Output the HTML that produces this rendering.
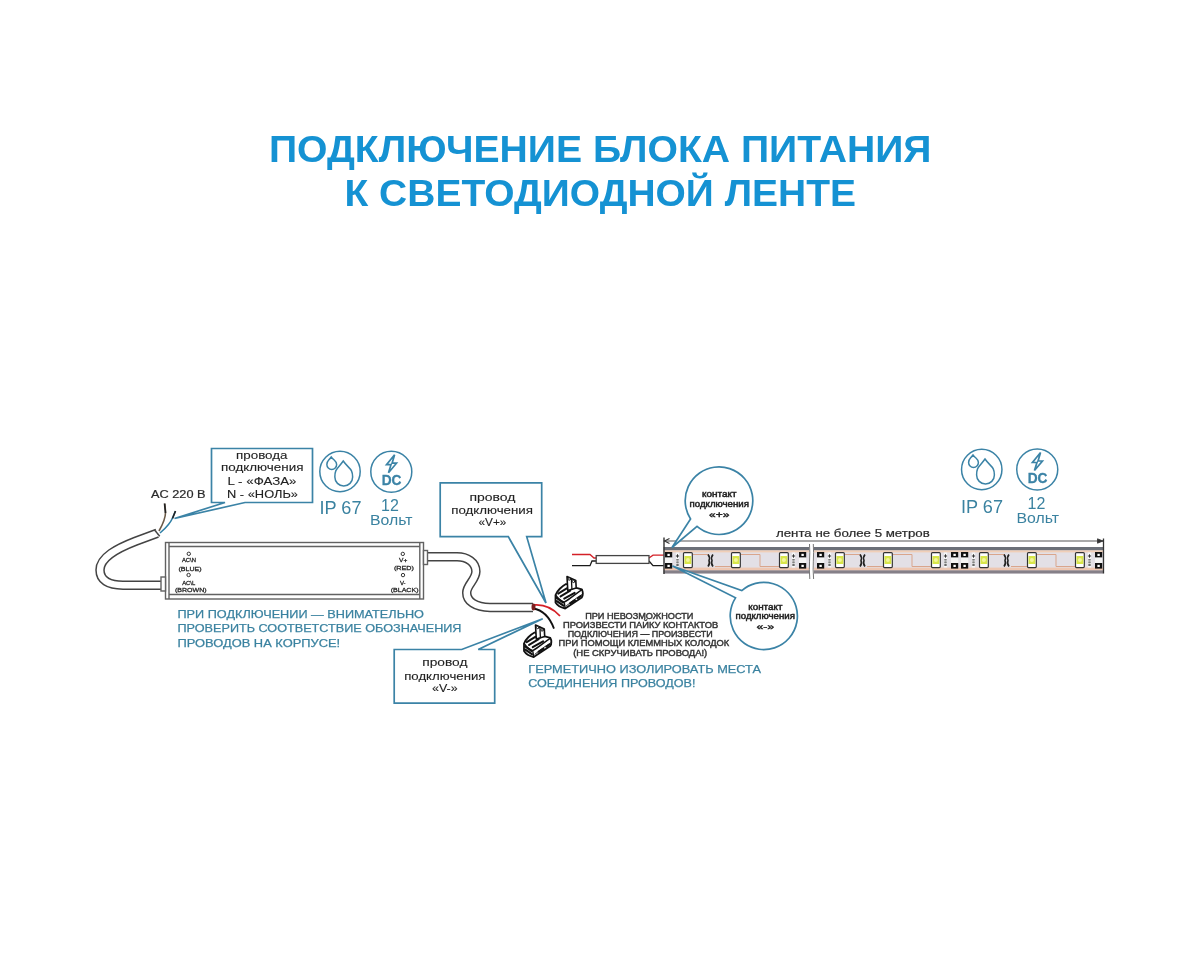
<!DOCTYPE html>
<html><head><meta charset="utf-8"><title>Подключение блока питания к светодиодной ленте</title>
<style>html,body{margin:0;padding:0;background:#fff;} svg{display:block;will-change:transform;}</style></head>
<body><svg width="1200" height="960" viewBox="0 0 1200 960">
<rect width="1200" height="960" fill="#fff"/>
<g font-family="Liberation Sans" >
<text x="268.9" y="162" font-size="37.4" fill="#1592d3" font-weight="bold" text-anchor="start" textLength="662.5" lengthAdjust="spacingAndGlyphs" >ПОДКЛЮЧЕНИЕ БЛОКА ПИТАНИЯ</text>
<text x="344.5" y="205.8" font-size="37.4" fill="#1592d3" font-weight="bold" text-anchor="start" textLength="511.5" lengthAdjust="spacingAndGlyphs" >К СВЕТОДИОДНОЙ ЛЕНТЕ</text>
</g>
<g fill="none" stroke-linecap="butt">
<path d="M159,531 C163,524 166,518 165.5,511 L164.8,503.7" stroke="#6b5a48" stroke-width="1.6"/>
<path d="M164.5,503.5 L165.5,513" stroke="#222" stroke-width="1.6"/>
<path d="M160,533 C166,528 171,522 173,517 L175.3,511.3" stroke="#2f7fa5" stroke-width="1.6"/>
<path d="M172.5,518.5 L175.5,511" stroke="#222" stroke-width="1.6"/>
<path d="M157.2,533.2 L135.6,541.2 C118,548 100,557 100,570 C100,580 108,585.2 123,585.2 L162,585.2" stroke="#444" stroke-width="9.5"/>
<path d="M157.2,533.2 L135.6,541.2 C118,548 100,557 100,570 C100,580 108,585.2 123,585.2 L162,585.2" stroke="#fff" stroke-width="6.5"/>
<path d="M154.5,530 L159.8,536.2" stroke="#444" stroke-width="1.4"/>
<path d="M427,556.8 L457,556.8 C467,556.8 475.9,562 475.9,571.6 C475.8,580 466.7,585 466.7,592.7 C466.7,601 475,607.4 490,607.4 L533,607.4" stroke="#444" stroke-width="9.5"/>
<path d="M427,556.8 L457,556.8 C467,556.8 475.9,562 475.9,571.6 C475.8,580 466.7,585 466.7,592.7 C466.7,601 475,607.4 490,607.4 L533,607.4" stroke="#fff" stroke-width="6.5"/>
</g>
<g fill="none" stroke="#626262" stroke-width="1.4">
<rect x="165.5" y="542.5" width="258" height="56.5" fill="#fff"/>
<line x1="169" y1="542.5" x2="169" y2="599"/>
<line x1="419.8" y1="542.5" x2="419.8" y2="599"/>
<line x1="169" y1="546.5" x2="419.8" y2="546.5"/>
<line x1="169" y1="594.5" x2="419.8" y2="594.5"/>
<rect x="161" y="577" width="4.5" height="14" fill="#fff"/>
<rect x="423.5" y="550.5" width="4" height="14" fill="#fff"/>
</g>
<g font-family="Liberation Sans" fill="#2a2a2a" font-size="6" text-anchor="middle" stroke="#2a2a2a" stroke-width="0.3">
<circle cx="188.8" cy="553.8" r="1.7" fill="none" stroke="#333" stroke-width="1"/>
<circle cx="188.6" cy="575" r="1.7" fill="none" stroke="#333" stroke-width="1"/>
<circle cx="402.8" cy="553.9" r="1.7" fill="none" stroke="#333" stroke-width="1"/>
<circle cx="403" cy="575.1" r="1.7" fill="none" stroke="#333" stroke-width="1"/>
<text x="188.89999999999998" y="562.2" textLength="14.000000000000005" lengthAdjust="spacingAndGlyphs">AC\N</text>
<text x="190.0" y="570.6" textLength="23.1" lengthAdjust="spacingAndGlyphs">(BLUE)</text>
<text x="188.75" y="585" textLength="13.1" lengthAdjust="spacingAndGlyphs">AC\L</text>
<text x="190.775" y="591.9" textLength="31.54999999999999" lengthAdjust="spacingAndGlyphs">(BROWN)</text>
<text x="403.15" y="561.9" textLength="8.299999999999988" lengthAdjust="spacingAndGlyphs">V+</text>
<text x="403.9" y="570.2" textLength="20.000000000000036" lengthAdjust="spacingAndGlyphs">(RED)</text>
<text x="402.75" y="585.1" textLength="5.700000000000022" lengthAdjust="spacingAndGlyphs">V-</text>
<text x="404.6" y="592.2" textLength="27.79999999999999" lengthAdjust="spacingAndGlyphs">(BLACK)</text>
</g>
<text x="151" y="497.7" font-size="11.6" fill="#2a2a2a" font-weight="normal" text-anchor="start" textLength="54.5" lengthAdjust="spacingAndGlyphs" font-family="Liberation Sans" stroke="#2a2a2a" stroke-width="0.2">AC 220 B</text>
<path d="M225,502.5 L211.5,502.5 L211.5,448.5 L312.5,448.5 L312.5,502.5 L245,502.5 L174.5,518.5 Z" fill="#fff" stroke="#3b83a6" stroke-width="1.7" stroke-linejoin="miter"/>
<path d="M508.3,536.7 L440.2,536.7 L440.2,482.8 L541.7,482.8 L541.7,536.7 L526.7,536.7 L546,603 Z" fill="#fff" stroke="#3b83a6" stroke-width="1.7" stroke-linejoin="miter"/>
<path d="M461.7,649.5 L394.2,649.5 L394.2,703.2 L494.7,703.2 L494.7,649.5 L478.2,649.5 L542.7,618.7 Z" fill="#fff" stroke="#3b83a6" stroke-width="1.7" stroke-linejoin="miter"/>
<g font-family="Liberation Sans" fill="#222" font-size="11.5" text-anchor="middle" stroke="#222" stroke-width="0.1">
<text x="261.75" y="459" textLength="51.5" lengthAdjust="spacingAndGlyphs" >провода</text>
<text x="262.25" y="471" textLength="82.5" lengthAdjust="spacingAndGlyphs" >подключения</text>
<text x="262.0" y="485" textLength="69" lengthAdjust="spacingAndGlyphs" >L - «ФАЗА»</text>
<text x="262.5" y="498" textLength="71.0" lengthAdjust="spacingAndGlyphs" >N - «НОЛЬ»</text>
<text x="492.5" y="500.9" textLength="46" lengthAdjust="spacingAndGlyphs" >провод</text>
<text x="492.1" y="513.7" textLength="81.80000000000001" lengthAdjust="spacingAndGlyphs" >подключения</text>
<text x="492.4" y="525.8" textLength="27.80000000000001" lengthAdjust="spacingAndGlyphs" >«V+»</text>
<text x="444.85" y="666.1" textLength="45.30000000000001" lengthAdjust="spacingAndGlyphs" >провод</text>
<text x="444.85" y="679.5" textLength="81.30000000000001" lengthAdjust="spacingAndGlyphs" >подключения</text>
<text x="444.85" y="691.5" textLength="25.69999999999999" lengthAdjust="spacingAndGlyphs" >«V-»</text>
</g>
<g fill="none" stroke="#3b83a6" stroke-width="1.5">
<circle cx="340" cy="471.5" r="20.2"/>
<circle cx="391.3" cy="471.7" r="20.5"/>
<path d="M331.25,457.0 C328.59,460.8 326.85,460.42 326.85,464.6 A4.9,4.9 0 0 0 336.65,464.6 C336.65,460.42 333.91,460.8 331.25,457.0 Z" fill="none"/>
<path d="M335.8,469.0 L341,470.5" stroke="#fff" stroke-width="0"/>
<path d="M343.25,461.0 C337.65,469.0 334.85,468.3 334.85,477.1 A8.9,8.9 0 0 0 352.65,477.1 C352.65,468.3 348.85,469.0 343.25,461.0 Z" fill="#fff"/>
<path d="M394.6,454.7 L386.5,464.7 L391.0,464.7 L388.5,472.7 L396.5,463.2 L392.1,463.2 Z" stroke-width="1.7" stroke-linejoin="miter"/>
</g>
<text x="391.6" y="485.2" font-family="Liberation Sans" font-weight="bold" font-size="14.6" fill="#3b83a6" stroke="#3b83a6" stroke-width="0.3" text-anchor="middle" textLength="19.8" lengthAdjust="spacingAndGlyphs">DC</text>
<g font-family="Liberation Sans" fill="#3a82a0">
<text x="319.5" y="514" font-size="17.6" textLength="42" lengthAdjust="spacingAndGlyphs">IP 67</text>
<text x="390" y="510.6" font-size="16" text-anchor="middle">12</text>
<text x="370" y="524.6" font-size="15" textLength="42.5" lengthAdjust="spacingAndGlyphs">Вольт</text>
</g>
<g fill="none" stroke="#3b83a6" stroke-width="1.5">
<circle cx="981.75" cy="469.5" r="20.2"/>
<circle cx="1037.25" cy="469.5" r="20.5"/>
<path d="M973.0,455.0 C970.34,458.8 968.6,458.42 968.6,462.6 A4.9,4.9 0 0 0 978.4,462.6 C978.4,458.42 975.66,458.8 973.0,455.0 Z" fill="none"/>
<path d="M977.55,467.0 L982.75,468.5" stroke="#fff" stroke-width="0"/>
<path d="M985.0,459.0 C979.4,467.0 976.6,466.3 976.6,475.1 A8.9,8.9 0 0 0 994.4,475.1 C994.4,466.3 990.6,467.0 985.0,459.0 Z" fill="#fff"/>
<path d="M1040.55,452.5 L1032.45,462.5 L1036.95,462.5 L1034.45,470.5 L1042.45,461.0 L1038.05,461.0 Z" stroke-width="1.7" stroke-linejoin="miter"/>
</g>
<text x="1037.55" y="483.0" font-family="Liberation Sans" font-weight="bold" font-size="14.6" fill="#3b83a6" stroke="#3b83a6" stroke-width="0.3" text-anchor="middle" textLength="19.8" lengthAdjust="spacingAndGlyphs">DC</text>
<g font-family="Liberation Sans" fill="#3a82a0">
<text x="961" y="512.5" font-size="17.6" textLength="42" lengthAdjust="spacingAndGlyphs">IP 67</text>
<text x="1036.5" y="509" font-size="16" text-anchor="middle">12</text>
<text x="1016.5" y="523" font-size="15" textLength="42.5" lengthAdjust="spacingAndGlyphs">Вольт</text>
</g>
<g font-family="Liberation Sans" fill="#3a82a0" font-size="11.6" stroke="#3a82a0" stroke-width="0.25">
<text x="177.5" y="618.2" textLength="246.5" lengthAdjust="spacingAndGlyphs">ПРИ ПОДКЛЮЧЕНИИ — ВНИМАТЕЛЬНО</text>
<text x="177.5" y="632.3" textLength="284" lengthAdjust="spacingAndGlyphs">ПРОВЕРИТЬ СООТВЕТСТВИЕ ОБОЗНАЧЕНИЯ</text>
<text x="177.5" y="646.7" textLength="162.7" lengthAdjust="spacingAndGlyphs">ПРОВОДОВ НА КОРПУСЕ!</text>
<text x="528.3" y="672.7" font-size="11.8" textLength="232.7" lengthAdjust="spacingAndGlyphs">ГЕРМЕТИЧНО ИЗОЛИРОВАТЬ МЕСТА</text>
<text x="528.3" y="687.3" font-size="11.8" textLength="167.2" lengthAdjust="spacingAndGlyphs">СОЕДИНЕНИЯ ПРОВОДОВ!</text>
</g>
<g font-family="Liberation Sans" fill="#333" font-size="8.4" text-anchor="middle" stroke="#333" stroke-width="0.4">
<text x="639.3" y="618.8" textLength="108.3" lengthAdjust="spacingAndGlyphs">ПРИ НЕВОЗМОЖНОСТИ</text>
<text x="640.6" y="628" textLength="155.1" lengthAdjust="spacingAndGlyphs">ПРОИЗВЕСТИ ПАЙКУ КОНТАКТОВ</text>
<text x="640.2" y="637.1" textLength="145" lengthAdjust="spacingAndGlyphs">ПОДКЛЮЧЕНИЯ — ПРОИЗВЕСТИ</text>
<text x="643.9" y="646.3" textLength="170.7" lengthAdjust="spacingAndGlyphs">ПРИ ПОМОЩИ КЛЕММНЫХ КОЛОДОК</text>
<text x="640.2" y="655.5" textLength="134" lengthAdjust="spacingAndGlyphs">(НЕ СКРУЧИВАТЬ ПРОВОДА!)</text>
</g>
<path d="M533,605 C543,604 552,607 560,616" fill="none" stroke="#d42027" stroke-width="1.8"/>
<path d="M533,608.5 C543,610 550,618 554,628.6" fill="none" stroke="#111" stroke-width="1.8"/>
<ellipse cx="533.5" cy="607" rx="2" ry="3.6" fill="#7a2020"/>
<g transform="translate(555,576)" fill="#fff" stroke="#111" stroke-width="1.5" stroke-linejoin="round" stroke-linecap="round">
<path d="M0.5,19 C2,15 7,10 11,8 L21.4,11.8 L26.8,13.4 C28.2,15.5 28.2,19.5 26.8,21.6 L10.2,32.5 C6,31.5 2,29 0.5,26.5 Z" stroke-width="1.8"/>
<path d="M0.8,19.2 C3,22.5 6,25 9.2,26.2 C15,23 21,17.5 27,13.6 M9.2,26.2 L10.2,32.3" fill="none" stroke-width="1.4"/>
<path d="M11.4,29.8 C16,26.2 21.5,21.5 27.2,18.4" fill="none" stroke-width="0.9"/>
<path d="M15.2,27.2 L20,24.3" fill="none" stroke-width="2.2"/>
<path d="M22.8,22.2 L26,20" fill="none" stroke-width="2"/>
<path d="M3.2,17.6 L11.8,12.4 M5.6,20.4 L15.2,14.6 M9.2,22.6 L19.6,16.8" fill="none" stroke-width="2"/>
<path d="M12,0.6 L20.8,4.6 L21.2,12 L12.8,14.6 Z" stroke-width="1.6"/>
<path d="M16.4,2.6 L16.9,13.3" fill="none" stroke-width="1.3"/>
<ellipse cx="14.2" cy="3" rx="1.3" ry="1.2" fill="#fff" stroke-width="1"/>
<ellipse cx="18.6" cy="5.4" rx="1.3" ry="1.2" fill="#fff" stroke-width="1"/>
<path d="M1.6,21.8 L8,26.4 M1.8,25.2 L8.4,29.6" fill="none" stroke-width="2.2"/>
</g>
<g transform="translate(523.5,624.5)" fill="#fff" stroke="#111" stroke-width="1.5" stroke-linejoin="round" stroke-linecap="round">
<path d="M0.5,19 C2,15 7,10 11,8 L21.4,11.8 L26.8,13.4 C28.2,15.5 28.2,19.5 26.8,21.6 L10.2,32.5 C6,31.5 2,29 0.5,26.5 Z" stroke-width="1.8"/>
<path d="M0.8,19.2 C3,22.5 6,25 9.2,26.2 C15,23 21,17.5 27,13.6 M9.2,26.2 L10.2,32.3" fill="none" stroke-width="1.4"/>
<path d="M11.4,29.8 C16,26.2 21.5,21.5 27.2,18.4" fill="none" stroke-width="0.9"/>
<path d="M15.2,27.2 L20,24.3" fill="none" stroke-width="2.2"/>
<path d="M22.8,22.2 L26,20" fill="none" stroke-width="2"/>
<path d="M3.2,17.6 L11.8,12.4 M5.6,20.4 L15.2,14.6 M9.2,22.6 L19.6,16.8" fill="none" stroke-width="2"/>
<path d="M12,0.6 L20.8,4.6 L21.2,12 L12.8,14.6 Z" stroke-width="1.6"/>
<path d="M16.4,2.6 L16.9,13.3" fill="none" stroke-width="1.3"/>
<ellipse cx="14.2" cy="3" rx="1.3" ry="1.2" fill="#fff" stroke-width="1"/>
<ellipse cx="18.6" cy="5.4" rx="1.3" ry="1.2" fill="#fff" stroke-width="1"/>
<path d="M1.6,21.8 L8,26.4 M1.8,25.2 L8.4,29.6" fill="none" stroke-width="2.2"/>
</g>
<g fill="none" stroke-width="1.3">
<path d="M572,554.5 L590,554.5 L594,558 L597,558" stroke="#d42027"/>
<path d="M572,565.7 L590,565.7 L592,561 L597,561" stroke="#1a1a1a"/>
<path d="M649,558 L653,555.2 L664,555.2" stroke="#d42027"/>
<path d="M649,561 L653,565.7 L664,565.7" stroke="#1a1a1a"/>
<rect x="596.2" y="555.6" width="52.8" height="7.8" fill="#fff" stroke="#444" stroke-width="1.3"/>
</g>
<g>
<rect x="663.6" y="547" width="439.7" height="26.5" fill="#e3e0e6"/>
<rect x="663.6" y="547" width="439.7" height="3.4" fill="#6c7078"/>
<rect x="663.6" y="570.2" width="439.7" height="3.3" fill="#858088"/>
<rect x="663.6" y="550.4" width="439.7" height="2" fill="#f0cfb8"/>
<rect x="663.6" y="567.6" width="439.7" height="2.6" fill="#eec7b2"/>
<rect x="665" y="552" width="7.2" height="5.6" fill="#111"/>
<rect x="667.4" y="553.8" width="2.4" height="2.2" fill="#fff"/>
<rect x="799" y="552" width="7.2" height="5.6" fill="#111"/>
<rect x="801.4" y="553.8" width="2.4" height="2.2" fill="#fff"/>
<rect x="665" y="563" width="7.2" height="5.6" fill="#111"/>
<rect x="667.4" y="564.8" width="2.4" height="2.2" fill="#fff"/>
<rect x="799" y="563" width="7.2" height="5.6" fill="#111"/>
<rect x="801.4" y="564.8" width="2.4" height="2.2" fill="#fff"/>
<rect x="665" y="557.6" width="7.2" height="5.4" fill="#f4f4f4"/>
<rect x="799" y="557.6" width="7.2" height="5.4" fill="#f4f4f4"/>
<rect x="675.9" y="552.5" width="3.2" height="15" fill="#f6f6f6"/>
<path d="M675.9,556 h3.2 M677.5,554.3 v3.4" stroke="#333" stroke-width="1"/>
<path d="M677.5,559 v1.6 M677.5,561.4 v1.8 M677.5,564 v2" stroke="#444" stroke-width="2.2"/>
<path d="M676.4,559.8 h2.2 M676.4,562.3 h2.2 M676.4,565 h2.2" stroke="#ddd" stroke-width="0.5"/>
<rect x="791.9" y="552.5" width="3.2" height="15" fill="#f6f6f6"/>
<path d="M791.9,556 h3.2 M793.5,554.3 v3.4" stroke="#333" stroke-width="1"/>
<path d="M793.5,559 v1.6 M793.5,561.4 v1.8 M793.5,564 v2" stroke="#444" stroke-width="2.2"/>
<path d="M792.4,559.8 h2.2 M792.4,562.3 h2.2 M792.4,565 h2.2" stroke="#ddd" stroke-width="0.5"/>
<path d="M693,554.5 L709,554.5 M715,566.5 L731,566.5 M741,554.5 L760,554.5 L760,566.5 L779,566.5" fill="none" stroke="#d9a58c" stroke-width="1"/>
<path d="M708,554.5 C710,557 710,558 709,560.5 C710,563 710,564 708,566.5 M713,554.5 C711,557 711,558 712,560.5 C711,563 711,564 713,566.5" fill="none" stroke="#222" stroke-width="1.6"/>
<rect x="683.5" y="552.6" width="8.8" height="15" rx="1" fill="#fff" stroke="#333" stroke-width="1.2"/>
<rect x="684.5" y="556" width="6.8" height="8" fill="#d8e64a"/>
<circle cx="687.9" cy="560" r="2" fill="#f3f59a"/>
<rect x="731.5" y="552.6" width="8.8" height="15" rx="1" fill="#fff" stroke="#333" stroke-width="1.2"/>
<rect x="732.5" y="556" width="6.8" height="8" fill="#d8e64a"/>
<circle cx="735.9" cy="560" r="2" fill="#f3f59a"/>
<rect x="779.5" y="552.6" width="8.8" height="15" rx="1" fill="#fff" stroke="#333" stroke-width="1.2"/>
<rect x="780.5" y="556" width="6.8" height="8" fill="#d8e64a"/>
<circle cx="783.9" cy="560" r="2" fill="#f3f59a"/>
<rect x="817" y="552" width="7.2" height="5.6" fill="#111"/>
<rect x="819.4" y="553.8" width="2.4" height="2.2" fill="#fff"/>
<rect x="951" y="552" width="7.2" height="5.6" fill="#111"/>
<rect x="953.4" y="553.8" width="2.4" height="2.2" fill="#fff"/>
<rect x="817" y="563" width="7.2" height="5.6" fill="#111"/>
<rect x="819.4" y="564.8" width="2.4" height="2.2" fill="#fff"/>
<rect x="951" y="563" width="7.2" height="5.6" fill="#111"/>
<rect x="953.4" y="564.8" width="2.4" height="2.2" fill="#fff"/>
<rect x="817" y="557.6" width="7.2" height="5.4" fill="#f4f4f4"/>
<rect x="951" y="557.6" width="7.2" height="5.4" fill="#f4f4f4"/>
<rect x="827.9" y="552.5" width="3.2" height="15" fill="#f6f6f6"/>
<path d="M827.9,556 h3.2 M829.5,554.3 v3.4" stroke="#333" stroke-width="1"/>
<path d="M829.5,559 v1.6 M829.5,561.4 v1.8 M829.5,564 v2" stroke="#444" stroke-width="2.2"/>
<path d="M828.4,559.8 h2.2 M828.4,562.3 h2.2 M828.4,565 h2.2" stroke="#ddd" stroke-width="0.5"/>
<rect x="943.9" y="552.5" width="3.2" height="15" fill="#f6f6f6"/>
<path d="M943.9,556 h3.2 M945.5,554.3 v3.4" stroke="#333" stroke-width="1"/>
<path d="M945.5,559 v1.6 M945.5,561.4 v1.8 M945.5,564 v2" stroke="#444" stroke-width="2.2"/>
<path d="M944.4,559.8 h2.2 M944.4,562.3 h2.2 M944.4,565 h2.2" stroke="#ddd" stroke-width="0.5"/>
<path d="M845,554.5 L861,554.5 M867,566.5 L883,566.5 M893,554.5 L912,554.5 L912,566.5 L931,566.5" fill="none" stroke="#d9a58c" stroke-width="1"/>
<path d="M860,554.5 C862,557 862,558 861,560.5 C862,563 862,564 860,566.5 M865,554.5 C863,557 863,558 864,560.5 C863,563 863,564 865,566.5" fill="none" stroke="#222" stroke-width="1.6"/>
<rect x="835.5" y="552.6" width="8.8" height="15" rx="1" fill="#fff" stroke="#333" stroke-width="1.2"/>
<rect x="836.5" y="556" width="6.8" height="8" fill="#d8e64a"/>
<circle cx="839.9" cy="560" r="2" fill="#f3f59a"/>
<rect x="883.5" y="552.6" width="8.8" height="15" rx="1" fill="#fff" stroke="#333" stroke-width="1.2"/>
<rect x="884.5" y="556" width="6.8" height="8" fill="#d8e64a"/>
<circle cx="887.9" cy="560" r="2" fill="#f3f59a"/>
<rect x="931.5" y="552.6" width="8.8" height="15" rx="1" fill="#fff" stroke="#333" stroke-width="1.2"/>
<rect x="932.5" y="556" width="6.8" height="8" fill="#d8e64a"/>
<circle cx="935.9" cy="560" r="2" fill="#f3f59a"/>
<rect x="961" y="552" width="7.2" height="5.6" fill="#111"/>
<rect x="963.4" y="553.8" width="2.4" height="2.2" fill="#fff"/>
<rect x="1095" y="552" width="7.2" height="5.6" fill="#111"/>
<rect x="1097.4" y="553.8" width="2.4" height="2.2" fill="#fff"/>
<rect x="961" y="563" width="7.2" height="5.6" fill="#111"/>
<rect x="963.4" y="564.8" width="2.4" height="2.2" fill="#fff"/>
<rect x="1095" y="563" width="7.2" height="5.6" fill="#111"/>
<rect x="1097.4" y="564.8" width="2.4" height="2.2" fill="#fff"/>
<rect x="961" y="557.6" width="7.2" height="5.4" fill="#f4f4f4"/>
<rect x="1095" y="557.6" width="7.2" height="5.4" fill="#f4f4f4"/>
<rect x="971.9" y="552.5" width="3.2" height="15" fill="#f6f6f6"/>
<path d="M971.9,556 h3.2 M973.5,554.3 v3.4" stroke="#333" stroke-width="1"/>
<path d="M973.5,559 v1.6 M973.5,561.4 v1.8 M973.5,564 v2" stroke="#444" stroke-width="2.2"/>
<path d="M972.4,559.8 h2.2 M972.4,562.3 h2.2 M972.4,565 h2.2" stroke="#ddd" stroke-width="0.5"/>
<rect x="1087.9" y="552.5" width="3.2" height="15" fill="#f6f6f6"/>
<path d="M1087.9,556 h3.2 M1089.5,554.3 v3.4" stroke="#333" stroke-width="1"/>
<path d="M1089.5,559 v1.6 M1089.5,561.4 v1.8 M1089.5,564 v2" stroke="#444" stroke-width="2.2"/>
<path d="M1088.4,559.8 h2.2 M1088.4,562.3 h2.2 M1088.4,565 h2.2" stroke="#ddd" stroke-width="0.5"/>
<path d="M989,554.5 L1005,554.5 M1011,566.5 L1027,566.5 M1037,554.5 L1056,554.5 L1056,566.5 L1075,566.5" fill="none" stroke="#d9a58c" stroke-width="1"/>
<path d="M1004,554.5 C1006,557 1006,558 1005,560.5 C1006,563 1006,564 1004,566.5 M1009,554.5 C1007,557 1007,558 1008,560.5 C1007,563 1007,564 1009,566.5" fill="none" stroke="#222" stroke-width="1.6"/>
<rect x="979.5" y="552.6" width="8.8" height="15" rx="1" fill="#fff" stroke="#333" stroke-width="1.2"/>
<rect x="980.5" y="556" width="6.8" height="8" fill="#d8e64a"/>
<circle cx="983.9" cy="560" r="2" fill="#f3f59a"/>
<rect x="1027.5" y="552.6" width="8.8" height="15" rx="1" fill="#fff" stroke="#333" stroke-width="1.2"/>
<rect x="1028.5" y="556" width="6.8" height="8" fill="#d8e64a"/>
<circle cx="1031.9" cy="560" r="2" fill="#f3f59a"/>
<rect x="1075.5" y="552.6" width="8.8" height="15" rx="1" fill="#fff" stroke="#333" stroke-width="1.2"/>
<rect x="1076.5" y="556" width="6.8" height="8" fill="#d8e64a"/>
<circle cx="1079.9" cy="560" r="2" fill="#f3f59a"/>
<rect x="809" y="543" width="5" height="36" fill="#fff"/>
<path d="M809.5,544 C810.5,556 808.5,566 809.8,579 M813.3,544 C814.3,556 812.3,566 813.6,579" fill="none" stroke="#666" stroke-width="0.9"/>
</g>
<g stroke="#555" fill="none">
<line x1="664" y1="541" x2="1103" y2="541" stroke-width="1.2"/>
<line x1="664" y1="537.5" x2="664" y2="574" stroke-width="1.4" stroke="#333"/>
<line x1="1103.5" y1="538.5" x2="1103.5" y2="573.5" stroke-width="1.3" stroke="#333"/>
<path d="M669.5,538.6 L664.5,541 L669.5,543.4" stroke="#333" stroke-width="1.1"/>
<path d="M1097.5,538.8 L1103,541 L1097.5,543.2 Z" fill="#333" stroke="#333" stroke-width="0.8"/>
</g>
<text x="776" y="536.5" font-size="11" fill="#2a2a2a" font-weight="normal" text-anchor="start" textLength="153.7" lengthAdjust="spacingAndGlyphs" font-family="Liberation Sans" stroke="#2a2a2a" stroke-width="0.2">лента не более 5 метров</text>
<path d="M672,547.5 L697.03,526.38 A33.8,33.8 0 1 0 690.56,518.96 Z" fill="#fff" stroke="#3b83a6" stroke-width="1.7" stroke-linejoin="miter"/>
<path d="M672.5,566 L735.53,597.84 A33.6,33.6 0 1 0 741.76,590.64 Z" fill="#fff" stroke="#3b83a6" stroke-width="1.7" stroke-linejoin="miter"/>
<g font-family="Liberation Sans" fill="#222" font-size="8.3" text-anchor="middle" stroke="#222" stroke-width="0.45">
<text x="719.25" y="497" textLength="34.5" lengthAdjust="spacingAndGlyphs" >контакт</text>
<text x="719.25" y="506.5" textLength="59.5" lengthAdjust="spacingAndGlyphs" >подключения</text>
<text x="719.25" y="517.5" textLength="20.5" lengthAdjust="spacingAndGlyphs" font-size="9.5">«+»</text>
<text x="765.325" y="610" textLength="34.14999999999998" lengthAdjust="spacingAndGlyphs" >контакт</text>
<text x="765.2" y="619.4" textLength="59.39999999999998" lengthAdjust="spacingAndGlyphs" >подключения</text>
<text x="765.325" y="630" textLength="17.850000000000023" lengthAdjust="spacingAndGlyphs" font-size="9.5">«-»</text>
</g>
</svg></body></html>
